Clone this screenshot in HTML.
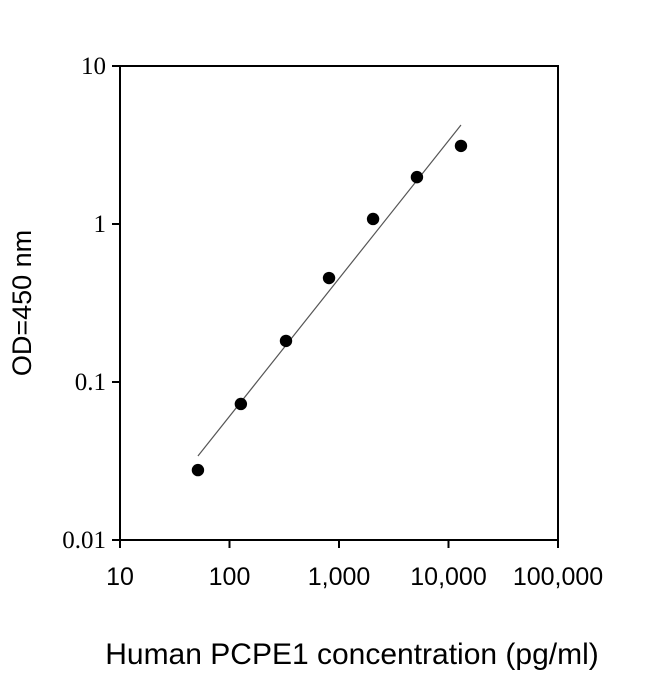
<!DOCTYPE html>
<html><head><meta charset="utf-8"><style>
html,body{margin:0;padding:0;background:#fff;}
svg text{font-family:"Liberation Sans",Arial,sans-serif;}
svg text.serif{font-family:"Liberation Serif",serif;}
</style></head><body>
<svg id="chart" width="650" height="674" viewBox="0 0 650 674" xmlns="http://www.w3.org/2000/svg">
<rect width="650" height="674" fill="#fff"/>
<g id="plot"></g>
<text x="352" y="664" font-size="30" text-anchor="middle" fill="#000">Human PCPE1 concentration (pg/ml)</text>
<text transform="translate(31,303) rotate(-90)" font-size="27" text-anchor="middle" fill="#000">OD=450 nm</text>
</svg>
<script>
const concentrations = [51.5, 127, 328, 811, 2047, 5150, 13000];
const odValues = [0.0277, 0.0726, 0.182, 0.455, 1.076, 1.98, 3.12];
const fitX = [51.5, 13000];
const fitY = [0.034, 4.23];
const xTicks = [10, 100, 1000, 10000, 100000];
const xTickLabels = ["10", "100", "1,000", "10,000", "100,000"];
const yTicks = [0.01, 0.1, 1, 10];
const yTickLabels = ["0.01", "0.1", "1", "10"];

const L=120,R=558,T=66,B=540;
const xs=v=>L+(Math.log10(v)-1)/4*(R-L);
const ys=v=>B-(Math.log10(v)+2)/3*(B-T);
const NS="http://www.w3.org/2000/svg";
const g=document.getElementById('plot');
function mk(tag,attrs){const e=document.createElementNS(NS,tag);for(const k in attrs)e.setAttribute(k,attrs[k]);g.appendChild(e);return e;}

const frame=mk('rect',{x:L,y:T,width:R-L,height:B-T,fill:'none',stroke:'#000','stroke-width':2});



xTicks.forEach((t,i)=>{
  const x=xs(t);
  const tk=mk('line',{x1:x,y1:B,x2:x,y2:B+8,stroke:'#000','stroke-width':2});
  
  
  const lb=mk('text',{x:x,y:B+45,'font-size':25,'text-anchor':'middle',fill:'#000'});
  lb.textContent=xTickLabels[i];
  
  
});
yTicks.forEach((t,i)=>{
  const y=ys(t);
  const tk=mk('line',{x1:L-8,y1:y,x2:L,y2:y,stroke:'#000','stroke-width':2});
  
  
  const lb=mk('text',{x:L-14,y:y+8,'font-size':25,'text-anchor':'end',fill:'#000','class':'serif'});
  lb.textContent=yTickLabels[i];
  
  
});

const fit=mk('line',{x1:xs(fitX[0]),y1:ys(fitY[0]),x2:xs(fitX[1]),y2:ys(fitY[1]),stroke:'#555','stroke-width':1.2});



concentrations.forEach((c,i)=>{
  const p=mk('circle',{cx:xs(c),cy:ys(odValues[i]),r:6.2,fill:'#000'});
  
  
});
</script>
</body></html>
